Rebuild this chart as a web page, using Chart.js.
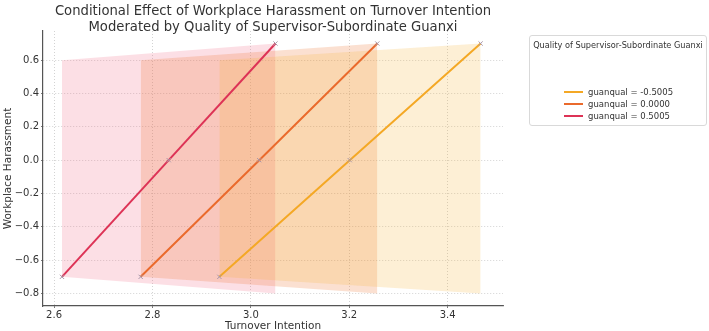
<!DOCTYPE html>
<html><head><meta charset="utf-8">
<script src="https://cdn.jsdelivr.net/npm/chart.js@4.4.0/dist/chart.umd.min.js"></script>
<style>
html,body{margin:0;padding:0;background:#fff;}
#wrap{position:relative;width:709px;height:331px;font-family:"DejaVu Sans",sans-serif;overflow:hidden;}
#c{position:absolute;left:0;top:0;}
#title{position:absolute;left:43px;width:460px;top:3px;text-align:center;font-size:13.2px;line-height:16px;color:#333;}
#legend{position:absolute;left:529px;top:35px;width:176px;height:89px;border:1px solid #d9d9d9;border-radius:3px;background:#fff;}
#legend .lt{position:absolute;left:0;width:176px;top:4px;text-align:center;font-size:8.2px;line-height:10px;color:#333;white-space:nowrap;}
#legend .it{position:absolute;left:34px;height:12px;font-size:8.5px;line-height:12px;color:#333;white-space:nowrap;}
#legend .it span.sw{display:inline-block;width:19px;height:2px;vertical-align:middle;margin-right:5px;position:relative;top:-1px;}
</style>
</head><body>
<div id="wrap">
<canvas id="c" width="709" height="331"></canvas>
<div id="title">Conditional Effect of Workplace Harassment on Turnover Intention<br>Moderated by Quality of Supervisor-Subordinate Guanxi</div>
<div id="legend"></div>
</div>
<script>
// ---- data ----
const categories = ['guanqual = -0.5005', 'guanqual = 0.0000', 'guanqual = 0.5005'];
const harassmentLevels = [-0.7, 0.0, 0.7];           // y values of the three points per line
const turnoverLow  = [2.936, 2.776, 2.616];          // x at harassment = -0.7
const turnoverMid  = [3.201, 3.017, 2.833];          // x at harassment = 0
const turnoverHigh = [3.467, 3.257, 3.050];          // x at harassment = 0.7
const bandUpper = [0.6, 0.7];                        // shaded band top (left, right)
const bandLower = [-0.7, -0.8];                      // shaded band bottom (left, right)
const xTicks = [2.6, 2.8, 3.0, 3.2, 3.4];
const yTicks = [-0.8, -0.6, -0.4, -0.2, 0.0, 0.2, 0.4, 0.6];

// ---- styles ----
const lineColors = ['#F4A825', '#EA6A2C', '#DD3356'];
const fillColors = ['rgba(247,175,45,0.2)', 'rgba(238,115,45,0.22)', 'rgba(240,95,125,0.2)'];
const markerColor = '#a796a8';

const datasets = [];
categories.forEach((name, i) => {
  const up = datasets.length;
  datasets.push({
    type: 'line', label: name + ' band upper',
    data: [{x: turnoverLow[i], y: bandUpper[0]}, {x: turnoverHigh[i], y: bandUpper[1]}],
    borderWidth: 0, borderColor: 'rgba(0,0,0,0)', pointRadius: 0,
    backgroundColor: fillColors[i], fill: up + 1, order: 2
  });
  datasets.push({
    type: 'line', label: name + ' band lower',
    data: [{x: turnoverLow[i], y: bandLower[0]}, {x: turnoverHigh[i], y: bandLower[1]}],
    borderWidth: 0, borderColor: 'rgba(0,0,0,0)', pointRadius: 0, fill: false, order: 2
  });
});
categories.forEach((name, i) => {
  datasets.push({
    type: 'line', label: name,
    data: harassmentLevels.map((y, k) => ({x: [turnoverLow[i], turnoverMid[i], turnoverHigh[i]][k], y})),
    borderColor: lineColors[i], borderWidth: 2, fill: false,
    pointStyle: 'crossRot', pointRadius: 3, pointBorderColor: markerColor,
    pointBorderWidth: 1, pointBackgroundColor: markerColor, order: 1
  });
});

const fmt = v => (Math.abs(v) < 1e-9 ? 0 : v).toFixed(1).replace('-', '\u2212');
const gridCfg = {color: '#c8c8c8', lineWidth: 0.8, drawTicks: true, tickLength: 2, tickColor: '#555'};
const borderCfg = {display: true, color: '#555', width: 1.2, dash: [1, 2]};

new Chart(document.getElementById('c'), {
  type: 'line',
  data: {datasets},
  options: {
    responsive: false, animation: false,
    layout: {padding: {left: 0, top: 31, right: 206, bottom: 0}},
    plugins: {legend: {display: false}, title: {display: false}, tooltip: {enabled: false}},
    scales: {
      x: {
        type: 'linear', min: 2.5775, max: 3.5125,
        afterBuildTicks: s => { s.ticks = xTicks.map(v => ({value: v})); },
        afterFit: s => { s.height = 25; },
        ticks: {callback: v => fmt(v), font: {family: 'DejaVu Sans', size: 10}, color: '#333', padding: 1, maxRotation: 0, autoSkip: false},
        grid: gridCfg,
        border: borderCfg,
        title: {display: true, text: 'Turnover Intention', font: {family: 'DejaVu Sans', size: 10.5, lineHeight: 0.85}, color: '#333', padding: {top: 0, bottom: 0}}
      },
      y: {
        type: 'linear', min: -0.875, max: 0.775,
        afterBuildTicks: s => { s.ticks = yTicks.map(v => ({value: v})); },
        afterFit: s => { s.width = 43; },
        ticks: {callback: v => fmt(v), font: {family: 'DejaVu Sans', size: 10}, color: '#333', padding: 2, autoSkip: false},
        grid: gridCfg,
        border: borderCfg,
        title: {display: true, text: 'Workplace Harassment', font: {family: 'DejaVu Sans', size: 10.5}, color: '#333', padding: {top: 2, bottom: 0}}
      }
    }
  }
});

// HTML legend
const lg = document.getElementById('legend');
let html = '<div class="lt">Quality of Supervisor-Subordinate Guanxi</div>';
categories.forEach((name, i) => {
  html += '<div class="it" style="top:' + (50 + i * 12) + 'px"><span class="sw" style="background:' + lineColors[i] + '"></span>' + name + '</div>';
});
lg.innerHTML = html;
</script>
</body></html>
